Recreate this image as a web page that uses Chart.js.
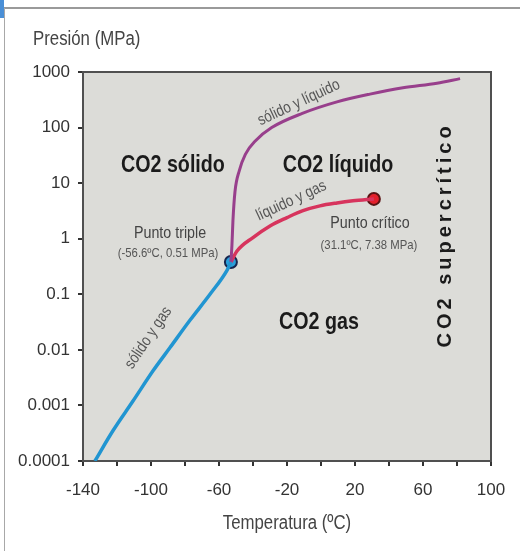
<!DOCTYPE html>
<html>
<head>
<meta charset="utf-8">
<script src="https://cdn.jsdelivr.net/npm/chart.js@4/dist/chart.umd.min.js"></script>
<style>
  body { margin: 0; background: #fff; }
  .wrap { position: relative; width: 520px; height: 551px; overflow: hidden; }
  .frame-top { position: absolute; left: 4px; top: 7px; width: 516px; height: 2px; background: #9a9a9a; }
  .frame-left { position: absolute; left: 4px; top: 8px; width: 1px; height: 543px; background: #a8a8a8; }
  .tab { position: absolute; left: 0; top: 0; width: 4px; height: 18px; background: #4a8fd6; }
  canvas { position: absolute; left: 0; top: 0; }
</style>
</head>
<body>
<div class="wrap">
  <canvas id="phaseChart" width="520" height="551"></canvas>
  <div class="frame-top"></div>
  <div class="frame-left"></div>
  <div class="tab"></div>
</div>
<script>
const sublimT = [-133, -122.4, -110.6, -98.8, -88.8, -77.1, -65.3, -55.3, -53];
const sublimP = [0.0001, 0.00035, 0.0012, 0.0042, 0.011, 0.034, 0.10, 0.27, 0.38];

const meltT = [-53, -52.4, -51.8, -50.6, -48, -44.5, -38.5, -29, -11, 9.4, 28.8, 48.2, 68.2, 81.8];
const meltP = [0.38, 0.75, 2.1, 7, 17, 33, 58, 100, 180, 290, 400, 520, 630, 760];

const vapT = [-53, -49.4, -40, -30, -20, -10.6, -0.6, 9.4, 18.8, 31.1];
const vapP = [0.38, 0.6, 1.05, 1.7, 2.4, 3.2, 3.9, 4.4, 4.8, 5.2];

const triplePoint = [-53, 0.38];
const criticalPoint = [31.1, 5.2];

const xTickValues = [-140, -120, -100, -80, -60, -40, -20, 0, 20, 40, 60, 80, 100];
const xTickLabels = ['-140', '-100', '-60', '-20', '20', '60', '100'];
const yTickValues = [0.0001, 0.001, 0.01, 0.1, 1, 10, 100, 1000];
const yTickLabels = ['0.0001', '0.001', '0.01', '0.1', '1', '10', '100', '1000'];

const SANS = '"Liberation Sans", Arial, sans-serif';

// Textes placés en coordonnées du graphique (squeeze = compression horizontale)
const annotations = [
    { text: 'CO2 sólido', t: -87.1, p: 21, font: 'bold 24px ' + SANS, color: '#1b1b1b', squeeze: 0.82 },
    { text: 'CO2 líquido', t: 10, p: 21, font: 'bold 24px ' + SANS, color: '#1b1b1b', squeeze: 0.82 },
    { text: 'CO2 gas', t: -1.2, p: 0.031, font: 'bold 24px ' + SANS, color: '#1b1b1b', squeeze: 0.82 },
    { text: 'CO2 supercrítico', t: 73.5, p: 1.17, font: 'bold 20px ' + SANS, color: '#1b1b1b', angle: -90, spacing: '4px' },
    { text: 'Punto triple', t: -88.8, p: 1.23, font: '17px ' + SANS, color: '#444', squeeze: 0.84 },
    { text: '(-56.6ºC, 0.51 MPa)', t: -90, p: 0.54, font: '13.5px ' + SANS, color: '#555', squeeze: 0.84 },
    { text: 'Punto crítico', t: 28.8, p: 1.86, font: '17px ' + SANS, color: '#444', squeeze: 0.84 },
    { text: '(31.1ºC, 7.38 MPa)', t: 28.2, p: 0.75, font: '13.5px ' + SANS, color: '#555', squeeze: 0.84 },
    { text: 'sólido y líquido', t: -13, p: 280, font: '16px ' + SANS, color: '#555', angle: -25, squeeze: 0.84 },
    { text: 'líquido y gas', t: -17.5, p: 4.8, font: '16px ' + SANS, color: '#555', angle: -25, squeeze: 0.84 },
    { text: 'sólido y gas', t: -101.5, p: 0.0165, font: '16px ' + SANS, color: '#555', angle: -56, squeeze: 0.84 }
];

function toPoints(xs, ys) {
    return xs.map((x, i) => ({ x: x, y: ys[i] }));
}

function drawText(ctx, text, x, y, font, color, angle, squeeze, spacing) {
    ctx.save();
    ctx.translate(x, y);
    if (angle) ctx.rotate(angle * Math.PI / 180);
    ctx.scale(squeeze || 1, 1);
    ctx.font = font;
    ctx.fillStyle = color;
    ctx.letterSpacing = spacing || '0px';
    ctx.fillText(text, 0, 0);
    ctx.restore();
}

// Fond gris, cadre et textes
const phasePlugin = {
    id: 'phasePlugin',
    beforeDraw(chart) {
        const { ctx, chartArea: a } = chart;
        ctx.save();
        ctx.fillStyle = '#dcdcd8';
        ctx.fillRect(a.left, a.top, a.right - a.left, a.bottom - a.top);
        ctx.restore();
    },
    beforeDatasetsDraw(chart) {
        const { ctx, chartArea: a } = chart;
        ctx.save();
        ctx.strokeStyle = '#505050';
        ctx.lineWidth = 2;
        ctx.strokeRect(a.left, a.top, a.right - a.left, a.bottom - a.top);
        ctx.restore();
    },
    afterDatasetsDraw(chart) {
        const { ctx, chartArea: a, scales } = chart;
        ctx.save();
        ctx.textAlign = 'center';
        ctx.textBaseline = 'middle';
        annotations.forEach(n => {
            drawText(ctx, n.text, scales.x.getPixelForValue(n.t), scales.y.getPixelForValue(n.p),
                n.font, n.color, n.angle, n.squeeze, n.spacing);
        });
        // Titres des axes
        ctx.textAlign = 'left';
        drawText(ctx, 'Presión (MPa)', 33, a.top - 33, '20px ' + SANS, '#444', 0, 0.84);
        ctx.textAlign = 'center';
        drawText(ctx, 'Temperatura (ºC)', (a.left + a.right) / 2, a.bottom + 62, '20px ' + SANS, '#444', 0, 0.84);
        ctx.restore();
    }
};

document.addEventListener('DOMContentLoaded', function() {
    const ctx = document.getElementById('phaseChart').getContext('2d');
    new Chart(ctx, {
        type: 'scatter',
        data: {
            datasets: [{
                data: toPoints(sublimT, sublimP),
                showLine: true,
                borderColor: '#2195d1',
                borderWidth: 3.5,
                pointRadius: 0,
                cubicInterpolationMode: 'monotone'
            }, {
                data: toPoints(meltT, meltP),
                showLine: true,
                borderColor: '#983f8c',
                borderWidth: 3,
                pointRadius: 0,
                cubicInterpolationMode: 'monotone'
            }, {
                data: toPoints(vapT, vapP),
                showLine: true,
                borderColor: '#d7345d',
                borderWidth: 3.5,
                pointRadius: 0,
                cubicInterpolationMode: 'monotone'
            }, {
                data: [{ x: triplePoint[0], y: triplePoint[1] }],
                pointRadius: 6,
                pointBackgroundColor: '#2a9fda',
                pointBorderColor: '#16264f',
                pointBorderWidth: 2
            }, {
                data: [{ x: criticalPoint[0], y: criticalPoint[1] }],
                pointRadius: 6,
                pointBackgroundColor: '#e3202b',
                pointBorderColor: '#5a1414',
                pointBorderWidth: 2
            }]
        },
        options: {
            responsive: false,
            animation: false,
            layout: { padding: { left: 0, top: 72, right: 29, bottom: 30 } },
            plugins: {
                legend: { display: false },
                tooltip: { enabled: false }
            },
            scales: {
                x: {
                    type: 'linear',
                    min: -140,
                    max: 100,
                    afterBuildTicks: axis => { axis.ticks = xTickValues.map(v => ({ value: v })); },
                    afterFit: scale => { scale.height = 60; },
                    border: { display: false },
                    grid: { drawOnChartArea: false, tickLength: 5, color: '#333', lineWidth: 2 },
                    ticks: {
                        autoSkip: false,
                        maxRotation: 0,
                        padding: 14,
                        color: '#333',
                        font: { family: SANS, size: 17 },
                        callback: value => xTickLabels.includes(String(value)) ? String(value) : ''
                    }
                },
                y: {
                    type: 'logarithmic',
                    min: 0.0001,
                    max: 1000,
                    afterBuildTicks: axis => { axis.ticks = yTickValues.map(v => ({ value: v })); },
                    afterFit: scale => { scale.width = 83; },
                    border: { display: false },
                    grid: { drawOnChartArea: false, tickLength: 5, color: '#333', lineWidth: 2 },
                    ticks: {
                        autoSkip: false,
                        padding: 8,
                        color: '#333',
                        font: { family: SANS, size: 17 },
                        callback: value => yTickLabels[yTickValues.indexOf(value)] || ''
                    }
                }
            }
        },
        plugins: [phasePlugin]
    });
});
</script>
</body>
</html>
